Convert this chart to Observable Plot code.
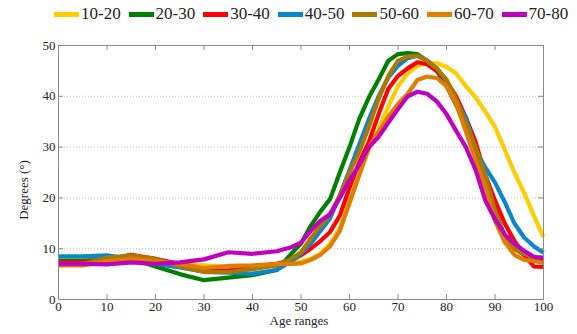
<!DOCTYPE html>
<html><head><meta charset="utf-8">
<script src="https://cdn.jsdelivr.net/npm/d3@7"></script>
<script src="https://cdn.jsdelivr.net/npm/@observablehq/plot@0.6"></script>
<style>
body{margin:0;background:#fff;}
#wrap{position:relative;width:577px;height:334px;font-family:"Liberation Serif",Tinos,"Times New Roman",Times,"Noto Serif","DejaVu Serif",serif;}
#legend{position:absolute;top:3px;left:54px;display:flex;height:22px;align-items:center;font-size:17px;color:#222;z-index:2;}
.item{display:flex;align-items:center;width:74.6px;white-space:nowrap;}
.sw{width:25px;height:5px;margin-right:2px;}
#chart{position:absolute;top:0;left:0;}
#ylab{position:absolute;left:22.5px;top:190px;transform:translate(-50%,-50%) rotate(-90deg);font-size:13px;color:#222;white-space:nowrap;line-height:1;}
</style></head><body>
<div id="wrap"><div id="legend"></div><div id="chart"></div><div id="ylab"></div></div>
<script>
const ages = [0,5,10,15,20,25,30,35,40,45,48,50,52,54,56,58,60,62,64,66,68,70,72,74,76,78,80,82,84,86,88,90,92,94,96,98,100];
const series = ["10-20","20-30","30-40","40-50","50-60","60-70","70-80"];
const colors = ["#FFCC00","#008000","#FF0000","#0A86CE","#AD7800","#E07D00","#C000BF"];
const v1020 = [7.8,7.8,8.0,8.0,7.5,7.0,6.7,6.5,6.5,7.0,7.3,7.5,8.0,9.0,11.0,14.0,19.5,24.5,29.5,33.5,38.0,42.0,44.5,46.0,46.5,46.5,45.8,44.5,42.0,39.8,37.0,34.0,29.5,25.0,21.0,16.5,12.3];
const v2030 = [7.6,7.6,7.8,8.0,6.5,5.0,3.8,4.3,4.8,5.8,9.0,11.0,14.5,17.3,19.8,25.0,30.0,35.5,39.8,43.3,47.0,48.3,48.5,48.3,47.0,45.0,42.0,38.3,34.0,29.0,23.5,17.5,12.5,10.0,8.8,8.0,7.9];
const v3040 = [7.3,7.3,7.8,8.8,8.0,7.0,5.8,5.7,6.3,7.0,7.8,8.7,10.0,11.5,13.3,16.5,22.0,27.0,31.0,36.5,41.5,44.0,45.5,46.7,46.3,45.0,43.0,40.0,35.8,31.0,24.5,19.5,15.0,11.5,8.8,6.5,6.4];
const v4050 = [8.5,8.5,8.7,8.0,7.0,6.3,5.5,5.3,5.1,5.8,7.5,9.0,11.0,13.5,16.0,20.5,25.5,30.5,35.5,40.0,43.7,46.0,47.5,48.0,47.0,45.5,43.0,39.0,35.8,29.5,26.0,23.0,19.2,15.0,12.2,10.5,9.2];
const v5060 = [7.0,7.0,8.2,8.7,8.0,6.5,5.4,5.4,6.0,6.7,8.0,9.3,12.0,14.5,16.8,20.5,25.0,29.0,34.0,39.5,44.0,47.0,47.8,48.0,47.0,45.5,43.3,39.5,34.8,30.0,24.5,17.5,12.0,10.0,9.0,8.3,8.3];
const v6070 = [6.7,6.7,7.5,8.0,7.5,7.0,6.2,6.6,6.7,7.0,7.0,7.1,7.8,8.8,10.5,13.5,19.0,24.5,30.0,33.0,36.0,38.5,40.5,43.2,43.9,43.6,42.0,38.5,33.0,27.5,22.0,15.5,11.3,8.8,7.8,7.6,7.2];
const v7080 = [7.0,7.0,6.9,7.3,7.0,7.3,7.9,9.3,9.0,9.5,10.3,11.2,13.5,15.5,16.8,20.0,23.5,26.5,30.0,32.0,34.8,37.5,40.0,40.9,40.5,39.0,36.5,33.2,30.0,25.5,19.5,15.8,12.8,11.0,9.6,8.4,8.1];
const values = [v1020,v2030,v3040,v4050,v5060,v6070,v7080];
const xTicks = [0,10,20,30,40,50,60,70,80,90,100];
const yTicks = [0,10,20,30,40,50];
const gridVals = [10,20,30,40];
const xLabel = "Age ranges";
const yLabel = "Degrees (°)";

const data = series.flatMap((s,i)=>ages.map((a,j)=>({age:a, deg:values[i][j], series:s})));

const W=577,H=334,mL=58,mR=34,mT=45,mB=35;
const xDom=[0,100], yDom=[0,50];
const tickPx=5;
const tx=(xDom[1]-xDom[0])*tickPx/(W-mL-mR);
const ty=(yDom[1]-yDom[0])*tickPx/(H-mT-mB);
const axisCol="#8a8a8a";
const serif = "'Liberation Serif',Tinos,'Times New Roman',Times,'Noto Serif','DejaVu Serif',serif";

const chart = Plot.plot({
  width:W, height:H, marginLeft:mL, marginRight:mR, marginTop:mT, marginBottom:mB,
  style:{fontFamily:serif, fontSize:"13px", color:"#222", background:"transparent"},
  x:{domain:xDom, label:null},
  y:{domain:yDom, label:null},
  color:{domain:series, range:colors},
  marks:[
    Plot.ruleY(gridVals, {stroke:"#bdbdbd", strokeDasharray:"1,2", strokeWidth:1}),
    Plot.line(data, {x:"age", y:"deg", z:"series", stroke:"series", strokeWidth:4.2, strokeLinejoin:"round", strokeLinecap:"butt"}),
    Plot.frame({stroke:axisCol}),
    Plot.ruleX(xTicks, {x:d=>d, y1:yDom[0], y2:yDom[0]+ty, stroke:axisCol}),
    Plot.ruleX(xTicks, {x:d=>d, y1:yDom[1]-ty, y2:yDom[1], stroke:axisCol}),
    Plot.ruleY(yTicks, {y:d=>d, x1:xDom[0], x2:xDom[0]+tx, stroke:axisCol}),
    Plot.ruleY(yTicks, {y:d=>d, x1:xDom[1]-tx, x2:xDom[1], stroke:axisCol}),
    Plot.axisX({ticks:xTicks, tickSize:0, tickPadding:2, tickFormat:d=>String(d), label:null}),
    Plot.axisY({ticks:yTicks, tickSize:0, tickPadding:3, tickFormat:d=>String(d), label:null}),
    Plot.text([xLabel], {frameAnchor:"bottom", dy:25, dx:-2, text:d=>d, fontSize:13})
  ]
});
document.getElementById("chart").appendChild(chart);
document.getElementById("ylab").textContent = yLabel;

const leg = document.getElementById("legend");
series.forEach((s,i)=>{
  const it=document.createElement("div"); it.className="item";
  const sw=document.createElement("span"); sw.className="sw"; sw.style.background=colors[i];
  const t=document.createElement("span"); t.textContent=s;
  it.appendChild(sw); it.appendChild(t); leg.appendChild(it);
});
</script>
</body></html>
